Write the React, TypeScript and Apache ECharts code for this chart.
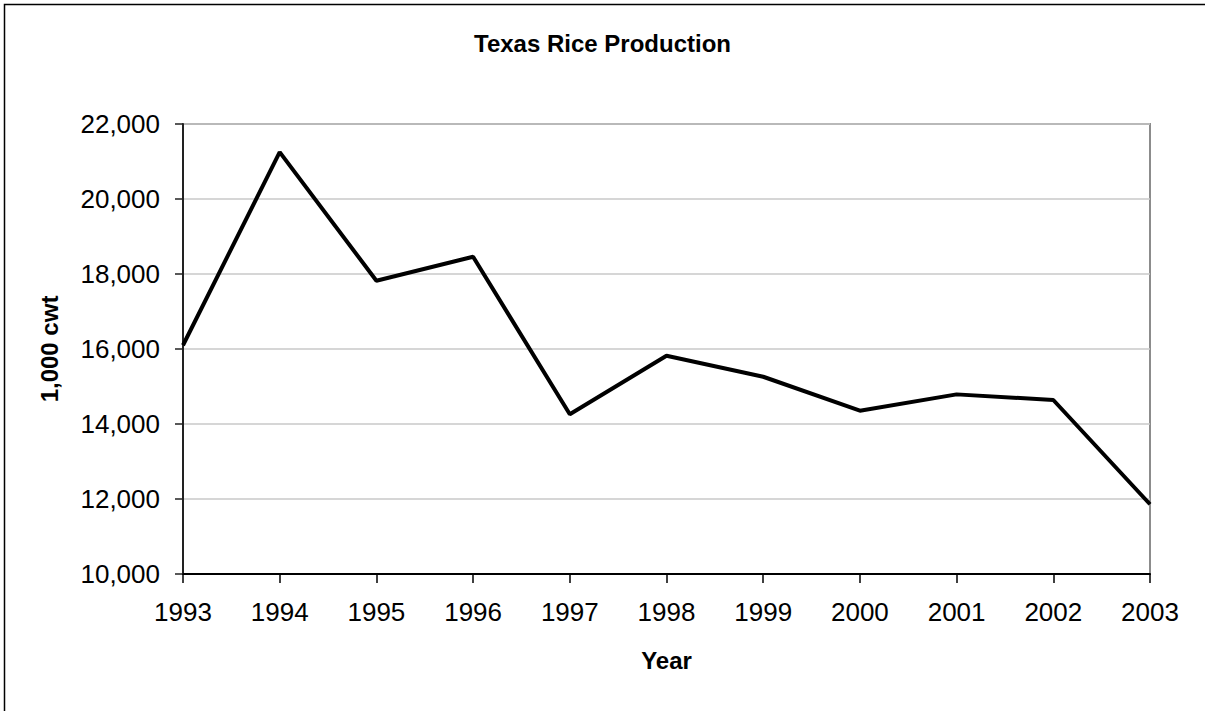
import React, { useEffect, useRef } from "react";
import * as echarts from "echarts";

const years = ["1993", "1994", "1995", "1996", "1997", "1998", "1999", "2000", "2001", "2002", "2003"];
const production = [16100, 21250, 17820, 18460, 14260, 15820, 15260, 14355, 14790, 14640, 11860];
const yMin = 10000;
const yMax = 22000;
const yStep = 2000;

const FONT = "'Liberation Sans', Arial, sans-serif";

export default function App() {
  const ref = useRef<HTMLDivElement>(null);
  useEffect(() => {
    if (!ref.current) return;
    const chart = echarts.init(ref.current, null, { renderer: "svg" });
    chart.setOption({
      animation: false,
      backgroundColor: "#ffffff",
      textStyle: { fontFamily: FONT },
      title: {
        text: "Texas Rice Production",
        left: "center",
        top: 26,
        textStyle: { fontFamily: FONT, fontSize: 24, fontWeight: "bold", color: "#000" },
      },
      graphic: [
        {
          type: "rect",
          shape: { x: 4.5, y: 4.5, width: 1400, height: 900 },
          style: { fill: "none", stroke: "#000", lineWidth: 1.5 },
          silent: true,
        },
      ],
      grid: {
        left: 183,
        right: 55,
        top: 124,
        bottom: 137,
        show: true,
        borderColor: "#8c8c8c",
        borderWidth: 2,
        backgroundColor: "transparent",
      },
      xAxis: {
        type: "category",
        data: years,
        boundaryGap: false,
        name: "Year",
        nameLocation: "middle",
        nameGap: 74,
        nameTextStyle: { fontFamily: FONT, fontSize: 24, fontWeight: "bold", color: "#000" },
        axisLine: { show: true, lineStyle: { color: "#000", width: 2 } },
        axisTick: { show: true, length: 9, lineStyle: { color: "#000", width: 1.5 } },
        axisLabel: { fontFamily: FONT, fontSize: 26, color: "#000", margin: 25 },
        splitLine: { show: false },
      },
      yAxis: {
        type: "value",
        min: yMin,
        max: yMax,
        interval: yStep,
        name: "1,000 cwt",
        nameLocation: "middle",
        nameGap: 122,
        nameTextStyle: { fontFamily: FONT, fontSize: 24, fontWeight: "bold", color: "#000" },
        axisLine: { show: true, lineStyle: { color: "#222", width: 2 } },
        axisTick: { show: true, length: 8, lineStyle: { color: "#222", width: 1.5 } },
        axisLabel: {
          fontFamily: FONT,
          fontSize: 26,
          color: "#000",
          margin: 23,
          formatter: (v: number) => v.toLocaleString("en-US"),
        },
        splitLine: { show: true, lineStyle: { color: "#c8c8c8", width: 1.5 } },
      },
      series: [
        {
          type: "line",
          data: production,
          showSymbol: false,
          symbol: "none",
          lineStyle: { color: "#000", width: 4 },
          z: 5,
        },
      ],
    });
    return () => chart.dispose();
  }, []);
  return (
    <div
      ref={ref}
      style={{ position: "absolute", left: 0, top: 0, width: 1205, height: 711 }}
    />
  );
}
